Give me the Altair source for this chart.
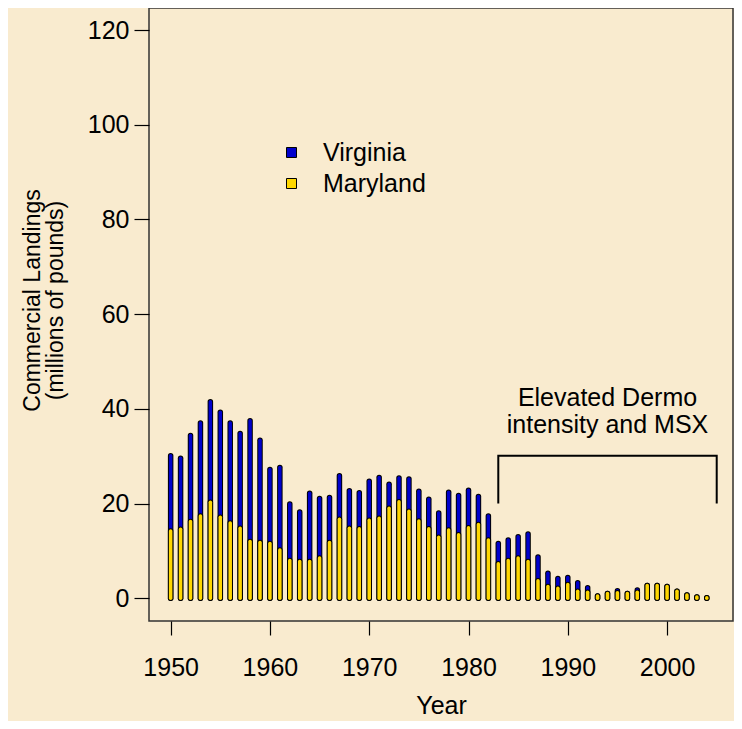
import altair as alt
import pandas as pd

# ---------------- data ----------------
years = list(range(1950, 2005))
maryland = [14.2, 14.6, 16.2, 17.4, 20.3, 17.1, 15.9, 14.8, 12.0, 11.8,
            11.6, 10.2, 8.0, 7.8, 7.8, 8.5, 11.8, 16.7, 14.8, 14.7,
            16.5, 16.9, 19.0, 20.4, 18.4, 16.3, 14.7, 12.9, 14.4, 13.4,
            14.9, 15.6, 12.3, 7.3, 8.0, 8.5, 7.8, 3.7, 2.5, 2.1,
            2.9, 1.5, 1.3, 0.5, 1.0, 1.2, 1.0, 1.3, 2.7, 2.7,
            2.5, 1.5, 0.7, 0.3, 0.1]
virginia = [15.9, 15.0, 18.2, 19.6, 21.2, 22.2, 21.1, 20.0, 25.5, 21.6,
            15.6, 17.4, 11.9, 10.4, 14.4, 12.6, 9.5, 9.2, 7.9, 7.6,
            8.2, 8.6, 5.1, 5.0, 6.8, 6.3, 6.2, 5.1, 8.0, 8.3,
            7.9, 5.9, 5.1, 4.3, 4.3, 4.5, 5.8, 5.0, 2.8, 2.1,
            1.5, 1.8, 0.95, 0.0, 0.0, 0.4, 0.0, 0.45, 0.0, 0.0,
            0.0, 0.0, 0.0, 0.0, 0.0]
series = ["Virginia", "Maryland"]
x_ticks = [1950, 1960, 1970, 1980, 1990, 2000]
y_ticks = [0, 20, 40, 60, 80, 100, 120]

bracket_x = [1983, 1983, 2005, 2005]
bracket_y = [20.0, 30.1, 30.1, 20.0]
note_text = ["Elevated Dermo\nintensity and MSX"]
note_x = [1994]
note_y = [40.6]

# ---------------- styles ----------------
BLUE = "#0000CC"
YELLOW = "#FFD700"
BG = "#F9EBCF"
FONT = "Liberation Sans"
FS = 25

df = pd.DataFrame({"year": years, "Virginia": virginia, "Maryland": maryland})
bracket_df = pd.DataFrame({"bx": bracket_x, "by": bracket_y, "i": list(range(len(bracket_x)))})
note_df = pd.DataFrame({"t": note_text, "nx": note_x, "ny": note_y})

xscale = alt.Scale(domain=[1947.82, 2006.64], nice=False, zero=False)
yscale = alt.Scale(domain=[-4.79, 124.65], nice=False, zero=False)

xaxis = alt.Axis(values=x_ticks, format="d", title="Year", domain=False, grid=False,
                 tickSize=14, tickColor="black", tickWidth=1.2,
                 labelFontSize=FS, labelPadding=20, labelFont=FONT, labelColor="black",
                 titleFontSize=FS, titleFont=FONT, titleFontWeight="normal", titleColor="black",
                 titleBaseline="alphabetic", titleY=92, titlePadding=0)
yaxis = alt.Axis(values=y_ticks, title=["Commercial Landings", "(millions of pounds)"],
                 domain=False, grid=False,
                 tickSize=15, tickColor="black", tickWidth=1.2,
                 labelFontSize=FS, labelPadding=5, labelFont=FONT, labelColor="black",
                 titleFontSize=23, titleFont=FONT, titleFontWeight="normal", titleColor="black",
                 titleAngle=270, titleAlign="center", titleBaseline="alphabetic",
                 titleX=-110, titleY=292, titleLineHeight=23)

X = alt.X("year:Q", scale=xscale, axis=xaxis)
Y = alt.Y("zero:Q", scale=yscale, axis=yaxis)

base = alt.Chart(df).transform_calculate(total="datum.Virginia + datum.Maryland", zero="0")

outline_total = base.mark_rule(color="black", strokeWidth=5.5, strokeCap="round").encode(
    x=X, y=Y, y2="total:Q")
blue_total = base.mark_rule(color=BLUE, strokeWidth=3.5, strokeCap="round").encode(
    x=X, y=Y, y2="total:Q")
outline_md = base.mark_rule(color="black", strokeWidth=5.5, strokeCap="round").encode(
    x=X, y=Y, y2="Maryland:Q")
yellow_md = base.mark_rule(color=YELLOW, strokeWidth=3.5, strokeCap="round").encode(
    x=X, y=Y, y2="Maryland:Q")

legend_layer = alt.Chart(df).transform_fold(series, as_=["state", "value"]).transform_calculate(
    zero="0").mark_square(size=100, opacity=0).encode(
    x=X, y=Y,
    color=alt.Color("state:N", scale=alt.Scale(domain=series, range=[BLUE, YELLOW]),
                    legend=alt.Legend(title=None, orient="none", legendX=130, legendY=132,
                                      symbolType="square", symbolSize=100,
                                      symbolStrokeColor="black", symbolStrokeWidth=1,
                                      symbolOpacity=1, labelFontSize=FS, labelFont=FONT,
                                      labelColor="black", labelOffset=19, rowPadding=5,
                                      padding=0)))

bracket = alt.Chart(bracket_df).mark_line(color="black", strokeWidth=2).encode(
    x=alt.X("bx:Q", scale=xscale, axis=xaxis),
    y=alt.Y("by:Q", scale=yscale, axis=yaxis),
    order="i:Q")

note = alt.Chart(note_df).mark_text(lineBreak="\n", fontSize=FS, font=FONT, color="black",
                                    align="center", baseline="alphabetic", lineHeight=27).encode(
    x=alt.X("nx:Q", scale=xscale, axis=xaxis),
    y=alt.Y("ny:Q", scale=yscale, axis=yaxis),
    text="t:N")

chart = alt.layer(outline_total, blue_total, outline_md, yellow_md, legend_layer, bracket, note).properties(
    width=584, height=613,
    autosize=alt.AutoSizeParams(type="none"),
    padding={"left": 141, "top": 0, "right": 1, "bottom": 100},
    background=BG,
).configure_view(stroke="#333333", strokeWidth=1.5).configure_legend(
    labelLimit=300)

chart.save("out.html", embed_options={"renderer": "svg", "actions": False})
